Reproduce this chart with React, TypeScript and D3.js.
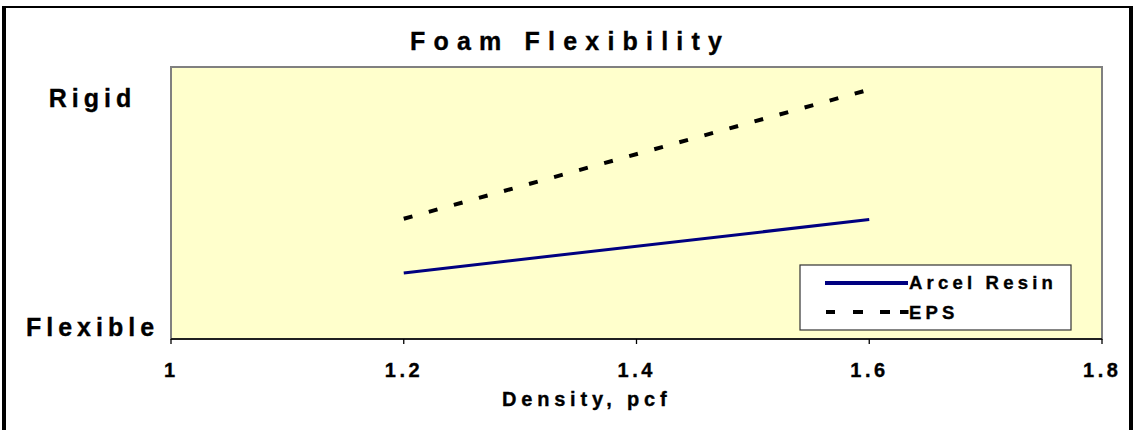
import React from "react";
import * as d3 from "d3";

const densities = [1.2, 1.6];
const arcelResin = [2.43, 4.39];
const eps = [4.42, 9.17];
const xTicks = [1, 1.2, 1.4, 1.6, 1.8];
const yLabels = [
  { label: "Rigid", value: 8.86 },
  { label: "Flexible", value: 0.44 },
];
const seriesNames = ["Arcel Resin", "EPS"];
const title = "Foam Flexibility";
const xTitle = "Density, pcf";

const W = 1133;
const H = 430;
const plot = { left: 171, right: 1102, top: 67, bottom: 339 };
const FONT = "'Liberation Sans', Arial, Helvetica, sans-serif";

export default function App() {
  const x = d3.scaleLinear().domain([1, 1.8]).range([plot.left, plot.right]);
  const y = d3.scaleLinear().domain([0, 10]).range([plot.bottom, plot.top]);
  const line = d3
    .line<[number, number]>()
    .x((d) => x(d[0]))
    .y((d) => y(d[1]));
  const arcelPts = densities.map((d, i) => [d, arcelResin[i]] as [number, number]);
  const epsPts = densities.map((d, i) => [d, eps[i]] as [number, number]);

  const tickLS = 3.6;
  const yLS = 5;
  const legLS = 4.2;
  const textStroke = { stroke: "#000", strokeWidth: 0.35 };

  return (
    <svg
      width={W}
      height={H}
      style={{ position: "absolute", left: 0, top: 0, background: "#fff" }}
      fontFamily={FONT}
      fontWeight="bold"
    >
      {/* chart outer border */}
      <line x1={4} y1={6} x2={4} y2={H + 5} stroke="#000" strokeWidth={4} />
      <line x1={1131} y1={6} x2={1131} y2={H + 5} stroke="#000" strokeWidth={4} />
      <line x1={2} y1={7} x2={1133} y2={7} stroke="#000" strokeWidth={2} />

      {/* title */}
      <text x={410} y={50} fontSize={25} letterSpacing={8.2} fill="#000" {...textStroke}>
        {title}
      </text>

      {/* plot area */}
      <rect
        x={plot.left}
        y={plot.top}
        width={plot.right - plot.left}
        height={plot.bottom - plot.top}
        fill="#FFFFCC"
        stroke="#808080"
        strokeWidth={2}
      />
      <line
        x1={plot.left}
        x2={plot.right}
        y1={plot.bottom}
        y2={plot.bottom}
        stroke="#000"
        strokeWidth={1.5}
      />
      {xTicks.map((t) => (
        <g key={t}>
          <line x1={x(t)} x2={x(t)} y1={plot.bottom} y2={plot.bottom + 5} stroke="#000" strokeWidth={1.3} />
          <text
            x={x(t) + tickLS / 2 - 1.5}
            y={377}
            fontSize={20}
            letterSpacing={tickLS}
            textAnchor="middle"
            fill="#000"
            {...textStroke}
          >
            {String(t)}
          </text>
        </g>
      ))}
      <text x={502} y={406} fontSize={20} letterSpacing={4.8} fill="#000" {...textStroke}>
        {xTitle}
      </text>

      {yLabels.map((l) => (
        <text
          key={l.label}
          x={90 + yLS / 2}
          y={y(l.value) + 9}
          fontSize={25}
          letterSpacing={yLS}
          textAnchor="middle"
          fill="#000"
          {...textStroke}
        >
          {l.label}
        </text>
      ))}

      {/* series */}
      <path d={line(epsPts) || ""} fill="none" stroke="#000" strokeWidth={4} strokeDasharray="9 17" />
      <path d={line(arcelPts) || ""} fill="none" stroke="#000080" strokeWidth={3} />

      {/* legend */}
      <rect x={800} y={265} width={271} height={65} fill="#fff" stroke="#333" strokeWidth={1.2} />
      <line x1={825} x2={908} y1={283} y2={283} stroke="#000080" strokeWidth={4} />
      <line
        x1={826}
        x2={908.5}
        y1={312}
        y2={312}
        stroke="#000"
        strokeWidth={4}
        strokeDasharray="9 18 10 17 10 10 9"
      />
      <text x={909} y={288.5} fontSize={18.5} letterSpacing={legLS} fill="#000" {...textStroke}>
        {seriesNames[0]}
      </text>
      <text x={909} y={318.5} fontSize={18.5} letterSpacing={legLS} fill="#000" {...textStroke}>
        {seriesNames[1]}
      </text>
    </svg>
  );
}
